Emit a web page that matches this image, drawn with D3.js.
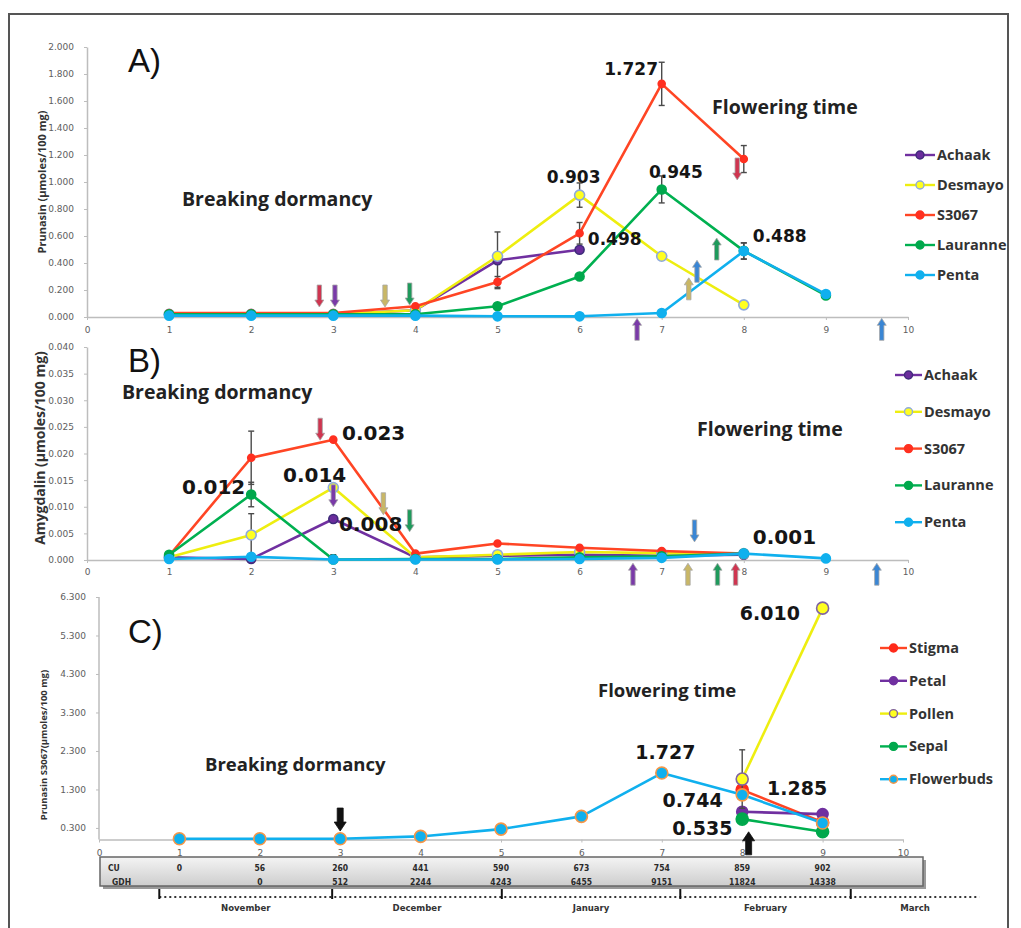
<!DOCTYPE html>
<html>
<head>
<meta charset="utf-8">
<script src="https://cdn.jsdelivr.net/npm/d3@7"></script>
<style>
body{margin:0;background:#fff}
svg{display:block}
</style>
</head>
<body>
<svg id="fig" width="1021" height="928"></svg>
<script>
// sampling points (x axis) shared by all three panels
var steps = [1, 2, 3, 4, 5, 6, 7, 8, 9];

/* A) prunasin by cultivar */
var achaakA   = [0.02, 0.02, 0.02, 0.05, 0.42, 0.498, null, null, null];
var desmayoA  = [0.02, 0.02, 0.02, 0.05, 0.45, 0.903, 0.45, 0.09, null];
var s3067A    = [0.03, 0.03, 0.03, 0.08, 0.26, 0.62, 1.727, 1.17, null];
var lauranneA = [0.02, 0.02, 0.02, 0.02, 0.08, 0.30, 0.945, 0.49, 0.16];
var pentaA    = [0.01, 0.01, 0.01, 0.01, 0.005, 0.005, 0.03, 0.488, 0.17];
var achaakAErr   = [0, 0, 0, 0, 0.21, 0, 0, 0, 0];
var desmayoAErr  = [0, 0, 0, 0, 0, 0.09, 0, 0, 0];
var s3067AErr    = [0, 0, 0, 0, 0.04, 0.08, 0.16, 0.1, 0];
var lauranneAErr = [0, 0, 0, 0, 0, 0, 0.1, 0.06, 0];
var pentaAErr    = [0, 0, 0, 0, 0, 0, 0, 0.06, 0];

/* B) amygdalin by cultivar */
var achaakB   = [0.0005, 0.0002, 0.0077, 0.0005, 0.0008, 0.0010, 0.0008, 0.0010, null];
var desmayoB  = [0.0005, 0.0047, 0.0136, 0.0005, 0.0010, 0.0015, 0.0013, 0.0012, null];
var s3067B    = [0.0008, 0.0192, 0.0226, 0.0012, 0.0031, 0.0023, 0.0017, 0.0012, null];
var lauranneB = [0.0010, 0.0123, 0.0001, 0.0002, 0.0002, 0.0005, 0.0007, 0.0012, null];
var pentaB    = [0.0002, 0.0006, 0.0001, 0.0001, 0.0001, 0.0002, 0.0004, 0.0012, 0.0003];
var achaakBErr   = [0, 0, 0, 0, 0, 0, 0, 0, 0];
var desmayoBErr  = [0, 0.004, 0, 0, 0, 0, 0, 0, 0];
var s3067BErr    = [0, 0.005, 0, 0, 0, 0, 0, 0, 0];
var lauranneBErr = [0, 0.0023, 0.0009, 0, 0, 0, 0, 0, 0];
var pentaBErr    = [0, 0, 0, 0, 0, 0, 0, 0, 0];

/* C) prunasin in S3067 flower organs */
var stigmaC     = [null, null, null, null, null, null, null, 1.29, 0.45];
var petalC      = [null, null, null, null, null, null, null, 0.72, 0.66];
var pollenC     = [null, null, null, null, null, null, null, 1.57, 6.01];
var sepalC      = [null, null, null, null, null, null, null, 0.53, 0.20];
var flowerbudsC = [0.02, 0.02, 0.02, 0.08, 0.27, 0.60, 1.727, 1.16, 0.43];
var pollenCErr  = [0, 0, 0, 0, 0, 0, 0, 0.76, 0];
var petalCErr   = [0, 0, 0, 0, 0, 0, 0, 0, 0.1];
var budsCErr    = [0, 0, 0, 0, 0, 0, 0.06, 0, 0];

var cultivars = ["Achaak", "Desmayo", "S3067", "Lauranne", "Penta"];
var organs = ["Stigma", "Petal", "Pollen", "Sepal", "Flowerbuds"];

var yTicksA = d3.range(0, 2.0001, 0.2);
var yTicksB = d3.range(0, 0.04001, 0.005);
var yTicksC = [0.3, 1.3, 2.3, 3.3, 4.3, 5.3, 6.3];

// value callouts: [text, x, y]
var calloutsA = [["1.727", 6.955, 1.793, "end"], ["0.903", 5.60, 0.993], ["0.945", 6.845, 1.03],
                 ["0.498", 6.10, 0.533], ["0.488", 8.11, 0.556]];
var calloutsB = [["0.023", 3.106, 0.02254], ["0.014", 2.387, 0.01465], ["0.012", 1.157, 0.0124],
                 ["0.008", 3.07, 0.00545], ["0.001", 8.11, 0.0030]];
var calloutsC = [["6.010", 7.97, 5.70], ["1.727", 6.67, 2.09], ["1.285", 8.31, 1.16],
                 ["0.744", 7.01, 0.84], ["0.535", 7.13, 0.12]];

// arrows: [x, tip value, direction, colour key]
var arrowsA = [[2.83, 0.074, "down", "red"], [3.02, 0.074, "down", "purple"], [3.63, 0.074, "down", "tan"],
               [3.93, 0.089, "down", "green"], [7.92, 1.015, "down", "red"], [7.67, 0.585, "up", "green"],
               [7.43, 0.42, "up", "blue"], [7.33, 0.29, "up", "tan"], [6.70, -0.01, "up", "purple"],
               [9.68, -0.01, "up", "blue"]];
var arrowsB = [[2.84, 0.0225, "down", "red"], [3.0, 0.010, "down", "purple"], [3.61, 0.0085, "down", "tan"],
               [3.93, 0.0053, "down", "green"], [7.4, 0.0034, "down", "blue"], [6.65, -0.0006, "up", "purple"],
               [7.32, -0.0006, "up", "tan"], [7.68, -0.0006, "up", "green"], [7.9, -0.0006, "up", "red"],
               [9.62, -0.0006, "up", "blue"]];
var arrowsC = [[3.0, 0.22, "down", "black"], [8.08, 0.2, "up", "black"]];

// chilling units / growing degree hours under panel C
var cuRow  = ["0", "56", "260", "441", "590", "673", "754", "859", "902"];
var gdhRow = ["", "0", "512", "2244", "4243", "6455", "9151", "11824", "14338"];
var months = ["November", "December", "January", "February", "March"];
var monthEdges = [0.75, 2.9, 5.01, 7.23, 9.35, 10.95];

var arrowColor = {red: "#cf3550", purple: "#7a3aa8", tan: "#c9b766", green: "#1f9a5c", blue: "#3a86d4", black: "#111"};
var styleA = {
  Achaak:   {line: "#7030a0", fill: "#6a2c9c", stroke: "#3f2b7a", r: 4.5},
  Desmayo:  {line: "#eeee10", fill: "#ffff20", stroke: "#8faadc", r: 5},
  S3067:    {line: "#ff4524", fill: "#ff3020", stroke: "#ff3020", r: 3.5},
  Lauranne: {line: "#00b050", fill: "#00a84c", stroke: "#00a84c", r: 4.5},
  Penta:    {line: "#10b0ee", fill: "#10b0ee", stroke: "#10b0ee", r: 4.5}
};
var styleC = {
  Stigma:     {line: "#ff4524", fill: "#ff2a1a", stroke: "#ff2a1a", r: 6},
  Petal:      {line: "#7030a0", fill: "#7030a0", stroke: "#7030a0", r: 5.5},
  Pollen:     {line: "#eeee10", fill: "#ffff20", stroke: "#8064a2", r: 6},
  Sepal:      {line: "#00b050", fill: "#00a84c", stroke: "#00a84c", r: 6},
  Flowerbuds: {line: "#10b0ee", fill: "#10b0ee", stroke: "#f79646", r: 6}
};

var svg = d3.select("#fig");
var defs = svg.append("defs");
var grad = defs.append("linearGradient").attr("id", "tbl").attr("x1", 0).attr("y1", 0).attr("x2", 0).attr("y2", 1);
grad.append("stop").attr("offset", "0%").attr("stop-color", "#f4f4f4");
grad.append("stop").attr("offset", "100%").attr("stop-color", "#cdcdcd");

// outer frame
svg.append("rect").attr("x", 9).attr("y", 14).attr("width", 999).attr("height", 940)
   .attr("fill", "none").attr("stroke", "#555").attr("stroke-width", 2);

function arrowPath(len, hw, sw, hl, dir) {
  // tip at the origin, drawn pointing down (body above) or up (body below)
  var s = dir == "down" ? -1 : 1;
  return "M0,0 L" + (-hw) + "," + (s * hl) + " L" + (-sw) + "," + (s * hl) + " L" + (-sw) + "," + (s * len) +
         " L" + sw + "," + (s * len) + " L" + sw + "," + (s * hl) + " L" + hw + "," + (s * hl) + "Z";
}

function panel(p) {
  var x = d3.scaleLinear().domain([0, 10]).range(p.xr);
  var y = d3.scaleLinear().domain(p.yd).range(p.yr);
  var g = svg.append("g");

  var yAxis = g.append("g").attr("transform", "translate(" + p.xr[0] + ",0)")
    .call(d3.axisLeft(y).tickValues(p.yticks).tickFormat(d3.format(".3f")).tickSize(3).tickPadding(10).tickSizeOuter(0));
  var xAxis = g.append("g").attr("transform", "translate(0," + y(0) + ")")
    .call(d3.axisBottom(x).tickValues(d3.range(0, 11)).tickFormat(d3.format("d")).tickSize(3).tickPadding(p.xpad).tickSizeOuter(0));
  [yAxis, xAxis].forEach(function(a) {
    a.select(".domain").attr("stroke", "#bdbdbd").attr("stroke-width", 1.5);
    a.selectAll(".tick line").attr("stroke", "#bdbdbd");
    a.selectAll(".tick text").attr("fill", "#5e5e5e").style("font", "9px 'DejaVu Sans'");
  });
  if (p.yDomainTop != null) yAxis.select(".domain").attr("d", "M0," + y(p.yDomainTop) + "V" + y(0));

  g.append("text").attr("transform", "translate(" + p.ylabX + "," + p.ylabY + ") rotate(-90)")
    .attr("text-anchor", "middle").attr("fill", "#333")
    .style("font", p.ylabFont).text(p.ylab);

  // panel letter and phase labels
  g.append("text").attr("x", p.letter[1]).attr("y", p.letter[2]).attr("fill", "#111")
    .style("font", "33px 'Liberation Sans'").text(p.letter[0]);
  p.phases.forEach(function(t) {
    g.append("text").attr("x", t[1]).attr("y", t[2]).attr("fill", "#222")
      .style("font", "bold " + p.phaseSize + "px 'Open Sans'").text(t[0]);
  });

  var line = d3.line().defined(function(d) { return d.v != null; })
    .x(function(d) { return x(d.x); }).y(function(d) { return y(d.v); });

  p.series.forEach(function(s) {
    var pts = steps.map(function(st, i) { return {x: st, v: s.values[i], e: s.err ? s.err[i] : 0}; });
    var st = p.styles[s.name];
    g.append("path").datum(pts).attr("d", line).attr("fill", "none")
      .attr("stroke", st.line).attr("stroke-width", 2.6).attr("stroke-linejoin", "round");
    var eb = g.append("g").selectAll("g").data(pts.filter(function(d) { return d.v != null && d.e > 0; }))
      .join("g").attr("stroke", "#4a4a4a").attr("stroke-width", 1.4);
    eb.append("line").attr("x1", function(d) { return x(d.x); }).attr("x2", function(d) { return x(d.x); })
      .attr("y1", function(d) { return y(d.v + d.e); }).attr("y2", function(d) { return y(Math.max(d.v - d.e, 0)); });
    eb.append("line").attr("x1", function(d) { return x(d.x) - 3; }).attr("x2", function(d) { return x(d.x) + 3; })
      .attr("y1", function(d) { return y(d.v + d.e); }).attr("y2", function(d) { return y(d.v + d.e); });
    eb.append("line").attr("x1", function(d) { return x(d.x) - 3; }).attr("x2", function(d) { return x(d.x) + 3; })
      .attr("y1", function(d) { return y(Math.max(d.v - d.e, 0)); }).attr("y2", function(d) { return y(Math.max(d.v - d.e, 0)); });
    g.append("g").selectAll("circle").data(pts.filter(function(d) { return d.v != null; }))
      .join("circle").attr("cx", function(d) { return x(d.x); }).attr("cy", function(d) { return y(d.v); })
      .attr("r", st.r).attr("fill", st.fill).attr("stroke", st.stroke).attr("stroke-width", 1.6);
  });

  p.arrows.forEach(function(a) {
    var big = a[3] == "black";
    g.append("path").attr("transform", "translate(" + x(a[0]) + "," + y(a[1]) + ")")
      .attr("d", arrowPath(big ? 23 : 22, big ? 6 : 4.5, big ? 3 : 2.2, big ? 9 : 7, a[2]))
      .attr("fill", arrowColor[a[3]]).attr("stroke", big ? "#111" : "#a8a8a8").attr("stroke-width", 0.8);
  });

  p.callouts.forEach(function(c) {
    g.append("text").attr("x", x(c[1])).attr("y", y(c[2])).attr("text-anchor", c[3] || "start")
      .attr("fill", "#151515").style("font", "bold " + p.calloutSize + "px 'DejaVu Sans'").text(c[0]);
  });

  // legend
  var lg = g.append("g").selectAll("g").data(p.legendNames).join("g")
    .attr("transform", function(d, i) { return "translate(" + p.legend[0] + "," + (p.legend[1] + i * p.legend[2]) + ")"; });
  lg.append("line").attr("x1", 0).attr("x2", p.legend[3]).attr("stroke-width", 2.4)
    .attr("stroke", function(d) { return p.styles[d].line; });
  lg.append("circle").attr("cx", p.legend[3] / 2).attr("r", 4)
    .attr("fill", function(d) { return p.styles[d].fill; })
    .attr("stroke", function(d) { return p.styles[d].stroke; }).attr("stroke-width", 1.4);
  lg.append("text").attr("x", p.legend[3] + 2).attr("dy", "0.35em").attr("fill", "#333")
    .style("font", "bold 14.5px 'Open Sans'").text(function(d) { return d; });

  return x;
}

panel({
  xr: [87, 908], yd: [0, 2], yr: [317, 47], yticks: yTicksA, xpad: 7,
  ylab: "Prunasin (\u00b5moles/100 mg)", ylabX: 46, ylabY: 182, ylabFont: "bold 11px 'Open Sans'",
  letter: ["A)", 128, 72], phaseSize: 19.5,
  phases: [["Breaking dormancy", 182, 206], ["Flowering time", 712, 114]],
  styles: styleA, legendNames: cultivars, legend: [905, 155, 30, 30],
  series: [
    {name: "Achaak", values: achaakA, err: achaakAErr},
    {name: "Desmayo", values: desmayoA, err: desmayoAErr},
    {name: "S3067", values: s3067A, err: s3067AErr},
    {name: "Lauranne", values: lauranneA, err: lauranneAErr},
    {name: "Penta", values: pentaA, err: pentaAErr}
  ],
  arrows: arrowsA, callouts: calloutsA, calloutSize: 17
});

panel({
  xr: [87, 908], yd: [0, 0.04], yr: [560, 347], yticks: yTicksB, xpad: 6,
  ylab: "Amygdalin (\u00b5moles/100 mg)", ylabX: 45, ylabY: 448, ylabFont: "bold 14px 'Open Sans'",
  letter: ["B)", 128, 372], phaseSize: 19.5,
  phases: [["Breaking dormancy", 122, 399], ["Flowering time", 697, 436]],
  styles: styleA, legendNames: cultivars, legend: [895, 375, 36.8, 27],
  series: [
    {name: "Achaak", values: achaakB, err: achaakBErr},
    {name: "Desmayo", values: desmayoB, err: desmayoBErr},
    {name: "S3067", values: s3067B, err: s3067BErr},
    {name: "Lauranne", values: lauranneB, err: lauranneBErr},
    {name: "Penta", values: pentaB, err: pentaBErr}
  ],
  arrows: arrowsB, callouts: calloutsB, calloutSize: 20
});

var xC = panel({
  xr: [99, 903], yd: [0, 6.3], yr: [839.5, 597], yticks: yTicksC, xpad: 7, yDomainTop: 6.3,
  ylab: "Prunasin S3067(\u00b5moles/100 mg)", ylabX: 47, ylabY: 745, ylabFont: "bold 9.5px 'Open Sans'",
  letter: ["C)", 128, 643], phaseSize: 18.5,
  phases: [["Breaking dormancy", 205, 771], ["Flowering time", 598, 697]],
  styles: styleC, legendNames: organs, legend: [880, 648, 32.8, 27],
  series: [
    {name: "Stigma", values: stigmaC},
    {name: "Petal", values: petalC, err: petalCErr},
    {name: "Pollen", values: pollenC, err: pollenCErr},
    {name: "Sepal", values: sepalC},
    {name: "Flowerbuds", values: flowerbudsC, err: budsCErr}
  ],
  arrows: arrowsC, callouts: calloutsC, calloutSize: 19
});

// CU / GDH table
var tbl = svg.append("g");
tbl.append("rect").attr("x", 103).attr("y", 860).attr("width", 823).attr("height", 29).attr("fill", "#9a9a9a");
tbl.append("rect").attr("x", 100).attr("y", 857).attr("width", 823).attr("height", 29)
   .attr("fill", "url(#tbl)").attr("stroke", "#666").attr("stroke-width", 1.5);
tbl.append("text").attr("x", 108).attr("y", 871).text("CU");
tbl.append("text").attr("x", 112).attr("y", 885).text("GDH");
tbl.selectAll("text.cu").data(cuRow).join("text").attr("class", "cu")
   .attr("x", function(d, i) { return xC(steps[i]); }).attr("y", 871).attr("text-anchor", "middle").text(function(d) { return d; });
tbl.selectAll("text.gdh").data(gdhRow).join("text").attr("class", "gdh")
   .attr("x", function(d, i) { return xC(steps[i]); }).attr("y", 885).attr("text-anchor", "middle").text(function(d) { return d; });
tbl.selectAll("text").attr("fill", "#2a2a2a").style("font", "bold 8.5px 'DejaVu Sans Condensed', 'DejaVu Sans'");

// month timeline
var tl = svg.append("g");
tl.append("line").attr("x1", xC(monthEdges[0])).attr("x2", xC(monthEdges[monthEdges.length - 1]))
  .attr("y1", 897).attr("y2", 897).attr("stroke", "#333").attr("stroke-width", 2).attr("stroke-dasharray", "2,3");
tl.selectAll("line.edge").data(monthEdges.slice(0, months.length)).join("line").attr("class", "edge")
  .attr("x1", function(d) { return xC(d); }).attr("x2", function(d) { return xC(d); })
  .attr("y1", 889).attr("y2", 899).attr("stroke", "#111").attr("stroke-width", 2);
tl.selectAll("text").data(months).join("text")
  .attr("x", function(d, i) { return (xC(monthEdges[i]) + xC(monthEdges[i + 1])) / 2; })
  .attr("y", 911).attr("text-anchor", "middle").attr("fill", "#333")
  .style("font", "bold 9.5px 'DejaVu Sans Condensed', 'DejaVu Sans'").text(function(d) { return d; });
</script>
</body>
</html>
